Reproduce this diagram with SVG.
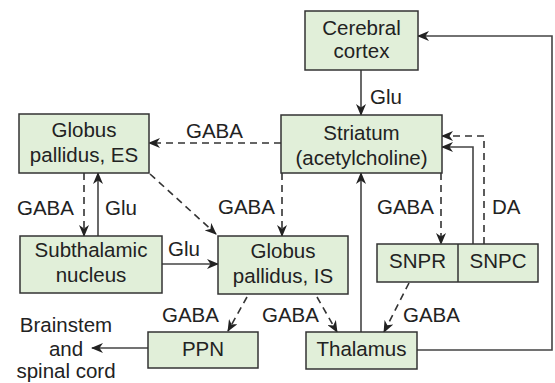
<svg xmlns="http://www.w3.org/2000/svg" width="555" height="383" viewBox="0 0 555 383">
<style>
.box{fill:#e1efd9;stroke:#333;stroke-width:1.5}
.t{font-family:"Liberation Sans",Arial,sans-serif;font-size:20.5px;fill:#222;text-anchor:middle}
.l{font-family:"Liberation Sans",Arial,sans-serif;font-size:20.5px;fill:#222}
.s{fill:none;stroke:#444;stroke-width:1.6;marker-end:url(#ah)}
.d{fill:none;stroke:#333;stroke-width:1.6;stroke-dasharray:7,5;marker-end:url(#ah)}
.n{fill:none;stroke:#444;stroke-width:1.6}
</style>
<defs>
<marker id="ah" viewBox="0 0 12 10" refX="11" refY="5" markerWidth="12" markerHeight="10" markerUnits="userSpaceOnUse" orient="auto">
<path d="M0,0 L12,5 L0,10 L3.5,5 z" fill="#222"/>
</marker>
</defs>
<rect width="555" height="383" fill="#fff"/>
<g id="connectors">
<line class="s" x1="361" y1="70" x2="361" y2="115"/>
<polyline class="s" points="417,350 552,350 552,36 418,36"/>
<line class="d" x1="281" y1="143" x2="149" y2="143"/>
<line class="d" x1="84" y1="173" x2="84" y2="236"/>
<line class="s" x1="98" y1="236" x2="98" y2="173"/>
<line class="d" x1="150" y1="174" x2="216" y2="234"/>
<line class="d" x1="282" y1="173" x2="282" y2="236"/>
<line class="s" x1="162" y1="264" x2="218" y2="264"/>
<line class="d" x1="441" y1="173" x2="441" y2="244"/>
<polyline class="s" points="473,244 473,147 442,147"/>
<polyline class="d" points="484,244 484,136 442,136"/>
<line class="s" x1="361" y1="332" x2="361" y2="173"/>
<line class="d" x1="247" y1="297" x2="228" y2="331"/>
<line class="d" x1="317" y1="297" x2="337" y2="332"/>
<line class="d" x1="409" y1="283" x2="384" y2="332"/>
<line class="s" x1="148" y1="348" x2="92" y2="348"/>
<text class="l" x="370" y="104">Glu</text>
<text class="l" x="186" y="138">GABA</text>
<text class="l" x="17" y="215">GABA</text>
<text class="l" x="105" y="215">Glu</text>
<text class="l" x="218" y="214">GABA</text>
<text class="l" x="168" y="256">Glu</text>
<text class="l" x="377" y="214">GABA</text>
<text class="l" x="492" y="214">DA</text>
<text class="l" x="162" y="322">GABA</text>
<text class="l" x="262" y="322">GABA</text>
<text class="l" x="403" y="322">GABA</text>
<text class="t" x="66" y="332">Brainstem</text>
<text class="t" x="66" y="356">and</text>
<text class="t" x="66" y="378">spinal cord</text>
</g>
<g id="cortex"><rect class="box" x="305" y="11" width="113" height="59"/><text class="t" x="361.5" y="35">Cerebral</text><text class="t" x="361.5" y="58">cortex</text></g>
<g id="striatum"><rect class="box" x="281" y="115" width="161" height="58"/><text class="t" x="361.5" y="140">Striatum</text><text class="t" x="361.5" y="165">(acetylcholine)</text></g>
<g id="gpes"><rect class="box" x="19" y="114" width="130" height="59"/><text class="t" x="84" y="137">Globus</text><text class="t" x="84" y="162">pallidus, ES</text></g>
<g id="stn"><rect class="box" x="20" y="236" width="142" height="57"/><text class="t" x="91" y="257">Subthalamic</text><text class="t" x="91" y="282">nucleus</text></g>
<g id="gpis"><rect class="box" x="218" y="236" width="130" height="58"/><text class="t" x="283" y="258">Globus</text><text class="t" x="283" y="283">pallidus, IS</text></g>
<g id="sn"><rect class="box" x="377" y="244" width="161" height="38"/><line x1="458" y1="244" x2="458" y2="282" stroke="#333" stroke-width="1.5"/><text class="t" x="417.5" y="268">SNPR</text><text class="t" x="498" y="268">SNPC</text></g>
<g id="ppn"><rect class="box" x="148" y="332" width="110" height="36"/><text class="t" x="203" y="356">PPN</text></g>
<g id="thalamus"><rect class="box" x="306" y="332" width="111" height="37"/><text class="t" x="361.5" y="356">Thalamus</text></g>
</svg>
